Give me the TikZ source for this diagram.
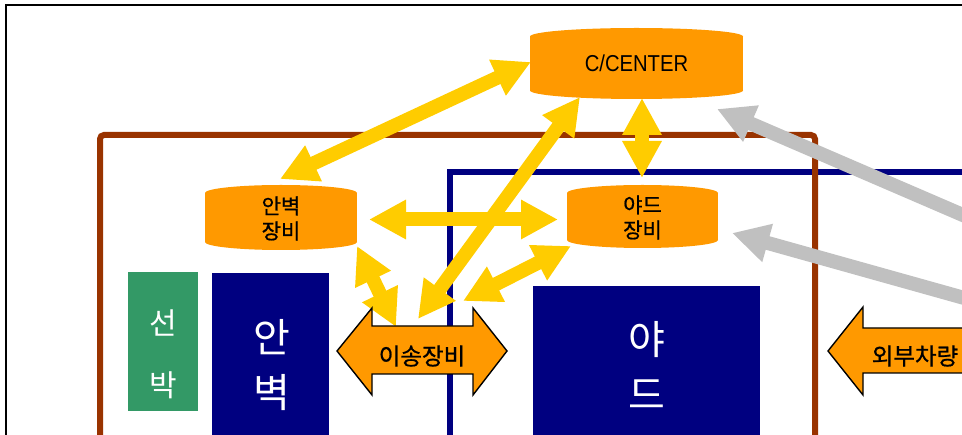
\documentclass[tikz,border=0pt]{standalone}
\usepackage{fontspec}
\setmainfont{Liberation Sans}
\newfontfamily\narrowfont[FakeStretch=0.88]{Liberation Sans}
\newfontfamily\kr{Noto Sans CJK KR}
\newfontfamily\krb[FakeBold=0.8]{Noto Sans CJK KR}
\usetikzlibrary{arrows.meta}
\definecolor{orangec}{HTML}{FF9900}
\definecolor{yellowc}{HTML}{FFCC00}
\definecolor{grayc}{HTML}{C0C0C0}
\definecolor{navyc}{HTML}{000080}
\definecolor{brownc}{HTML}{993300}
\definecolor{greenc}{HTML}{339966}
\newcommand{\barrelfill}[5]{%
  \fill[orangec] ({#1-#3},{#2-#4}) rectangle ({#1+#3},{#2+#4});
  \fill[orangec] (#1,{#2-#4}) ellipse [x radius=#3pt, y radius=#5pt];
  \fill[orangec] (#1,{#2+#4}) ellipse [x radius=#3pt, y radius=#5pt];}
\tikzset{
  yarrow/.style={draw=yellowc, line width=14pt,
    arrows={Triangle[width=37pt,length=37pt]-Triangle[width=37pt,length=37pt]}},
  garrow/.style={draw=grayc, line width=14pt,
    arrows={-Triangle[width=37pt,length=37pt]}},
  blockarrow/.style={fill=orangec, draw=black, line width=1.4pt, line join=miter},
  smalltext/.style={font=\krb\fontsize{21}{25}\selectfont, align=center, inner sep=0pt},
  midtext/.style={font=\krb\fontsize{23.5}{26}\selectfont, inner sep=0pt},
  bigwhite/.style={font=\kr\fontsize{40}{55}\selectfont, text=white, align=center, inner sep=0pt},
  shiptext/.style={font=\kr\fontsize{30}{62}\selectfont, text=white, align=center, inner sep=0pt},
  navybox/.style={fill=navyc, draw=none, anchor=north west, inner sep=0pt},
}
\begin{document}
\begin{tikzpicture}[x=1pt,y=-1pt]
\useasboundingbox (0,0) rectangle (962,435);
\clip (0,0) rectangle (962,435);
% outer frame
\draw[line width=1.3pt] (1000,5) -- (6,5) -- (6,500);
% navy region
\draw[navyc, line width=6.5pt] (450,500) -- (450,172) -- (1000,172);
% brown region
\draw[brownc, line width=6pt, rounded corners=4pt] (100,500) -- (100,135) -- (815,135) -- (815,500);
% boxes
\node[navybox, minimum width=117pt, minimum height=170pt] (anbox) at (212,273) {};
\node[navybox, minimum width=227pt, minimum height=160pt] (yardbox) at (533,286) {};
\node[navybox, fill=greenc, minimum width=70pt, minimum height=139pt] (shipbox) at (128,272) {};
\node[shiptext] (ship) at (163,354) {선\\박};
\node[bigwhite] (anbyeok) at (272,365) {안\\벽};
\node[bigwhite] (yard) at (647,365) {야\\드};
% arrow end points
\coordinate (cA) at (531,62);
\coordinate (aT) at (280,179);
\coordinate (cB) at (580,97);
\coordinate (iA) at (418,319);
\coordinate (cC) at (642,98);
\coordinate (yT) at (642,178);
\coordinate (aR) at (369,219.5);
\coordinate (yL) at (558,219.5);
\coordinate (aB) at (357,246);
\coordinate (iB) at (396,327);
\coordinate (yB) at (571,246);
\coordinate (iC) at (463,301);
\coordinate (cR) at (717,109);
\coordinate (g1) at (1000,231);
\coordinate (yR) at (732,233);
\coordinate (g2) at (1000,308);
% yellow arrows
\draw[yarrow] (aT) -- (cA);
\draw[yarrow] (iA) -- (cB);
\draw[yarrow] (cC) -- (yT);
\draw[yarrow] (aR) -- (yL);
\draw[yarrow] (aB) -- (iB);
\draw[yarrow] (yB) -- (iC);
% gray arrows
\draw[garrow] (g1) -- (cR);
\draw[garrow] (g2) -- (yR);
% cylinders
\barrelfill{636.5}{63.5}{106.5}{27}{8.5}
\node[font=\narrowfont\fontsize{23}{26}\selectfont, inner sep=0pt] (center) at (636.5,63.5) {C/CENTER};
\barrelfill{281}{217.5}{76}{24.5}{8}
\node[smalltext] (anequip) at (281,218.5) {안벽\\장비};
\barrelfill{642.5}{216.5}{75.5}{23.5}{8}
\node[smalltext] (yardequip) at (642.5,217.5) {야드\\장비};
% block arrows
\draw[blockarrow] (337,351) -- (372,308) -- (372,326) -- (473,326) -- (473,308) -- (507,351) -- (473,395) -- (473,374) -- (372,374) -- (372,395) -- cycle;
\node[midtext] (transfer) at (422,356) {이송장비};
\draw[blockarrow] (990,328) -- (863,328) -- (863,307) -- (828,351) -- (863,395) -- (863,373) -- (990,373);
\node[midtext] (outer) at (915,356) {외부차량};
\end{tikzpicture}
\end{document}
